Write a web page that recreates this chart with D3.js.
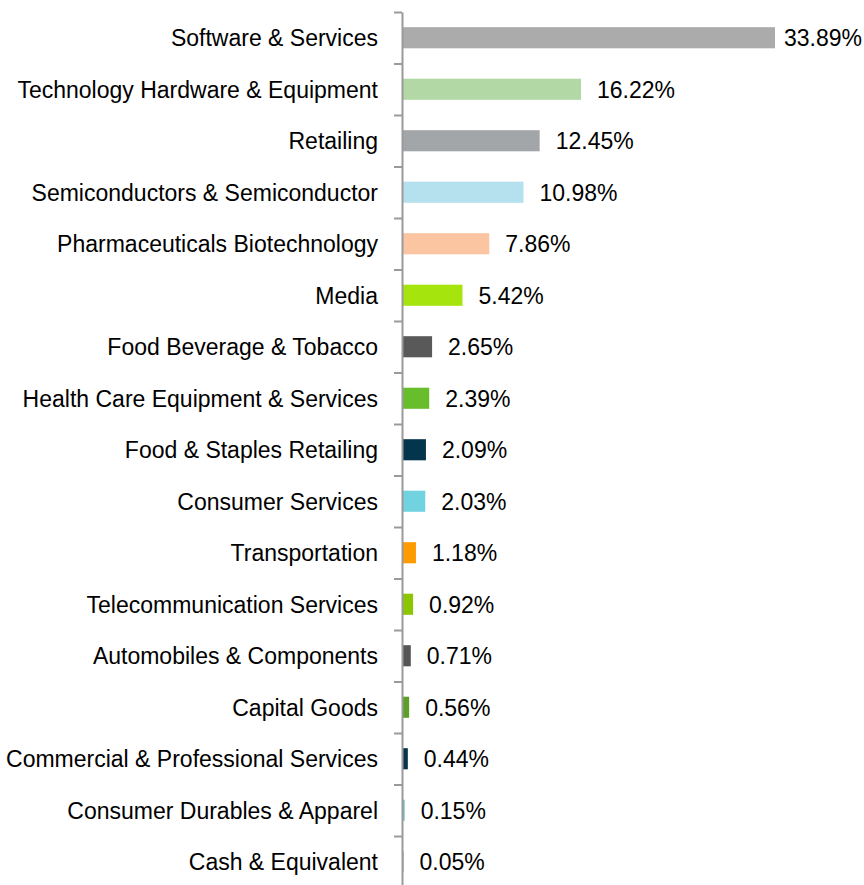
<!DOCTYPE html>
<html>
<head>
  <meta charset="utf-8">
  <title>Sector Allocation</title>
  <script src="https://cdn.jsdelivr.net/npm/d3@7/dist/d3.min.js"></script>
  <style>
    body { margin: 0; background: #fff; }
    text { font-family: "Liberation Sans", Arial, sans-serif; fill: #000; }
  </style>
</head>
<body>
<script>
  // data
  var sectors = [
    "Software & Services",
    "Technology Hardware & Equipment",
    "Retailing",
    "Semiconductors & Semiconductor",
    "Pharmaceuticals Biotechnology",
    "Media",
    "Food Beverage & Tobacco",
    "Health Care Equipment & Services",
    "Food & Staples Retailing",
    "Consumer Services",
    "Transportation",
    "Telecommunication Services",
    "Automobiles & Components",
    "Capital Goods",
    "Commercial & Professional Services",
    "Consumer Durables & Apparel",
    "Cash & Equivalent"
  ];
  var weights = [33.89, 16.22, 12.45, 10.98, 7.86, 5.42, 2.65, 2.39, 2.09, 2.03,
                 1.18, 0.92, 0.71, 0.56, 0.44, 0.15, 0.05];
  var colors = ["#ababab", "#b1d8a5", "#a3a6a9", "#b5e1ee", "#fbc5a2", "#a5e40c",
                "#595959", "#68bd2c", "#03354c", "#72d3e0", "#fe9b00", "#8bc600",
                "#555555", "#5b9f26", "#08344a", "#6ac2cd", "#a89a84"];

  var width = 864, height = 885;
  var top0 = 12, step = 51.5;
  var axisX = 402;

  var svg = d3.select("body").append("svg")
      .attr("width", width)
      .attr("height", height);

  var y = d3.scaleBand()
      .domain(sectors)
      .range([top0, top0 + step * sectors.length])
      .paddingInner(0.59)
      .paddingOuter(0.295);

  var x = d3.scaleLinear()
      .domain([0, 33.89])
      .range([axisX + 1, 775]);

  // bars
  svg.selectAll(".bar")
      .data(sectors)
      .enter().append("rect")
      .attr("class", "bar")
      .attr("x", x(0))
      .attr("y", function(d) { return y(d); })
      .attr("width", function(d, i) { return Math.max(x(weights[i]) - x(0), 0.6); })
      .attr("height", y.bandwidth())
      .style("fill", function(d, i) { return colors[i]; });

  // axis with ticks on category boundaries
  var yb = d3.scaleLinear()
      .domain([0, sectors.length])
      .range([top0, top0 + step * sectors.length]);
  var yAxis = d3.axisLeft(yb)
      .tickValues(d3.range(sectors.length + 1))
      .tickSize(8)
      .tickSizeOuter(0)
      .tickFormat("");
  var ag = svg.append("g")
      .attr("transform", "translate(" + axisX + ",0)")
      .call(yAxis);
  ag.selectAll("line, path").attr("stroke", "#9a9a9a").attr("stroke-width", 2);

  // category labels
  svg.selectAll(".cat")
      .data(sectors)
      .enter().append("text")
      .attr("class", "cat")
      .attr("x", 378)
      .attr("y", function(d) { return y(d) + y.bandwidth() / 2; })
      .attr("dy", "0.37em")
      .style("font-size", "23px")
      .style("text-anchor", "end")
      .text(function(d) { return d; });

  // value labels
  svg.selectAll(".val")
      .data(sectors)
      .enter().append("text")
      .attr("class", "val")
      .attr("x", function(d, i) { return x(weights[i]) + 16; })
      .attr("y", function(d) { return y(d) + y.bandwidth() / 2; })
      .attr("dy", "0.37em")
      .style("font-size", "23px")
      .text(function(d, i) { return weights[i].toFixed(2) + "%"; })
      .each(function() {
        var w = this.getComputedTextLength();
        var xx = +this.getAttribute("x");
        if (xx + w > 862) this.setAttribute("x", 862 - w);
      });
</script>
</body>
</html>
